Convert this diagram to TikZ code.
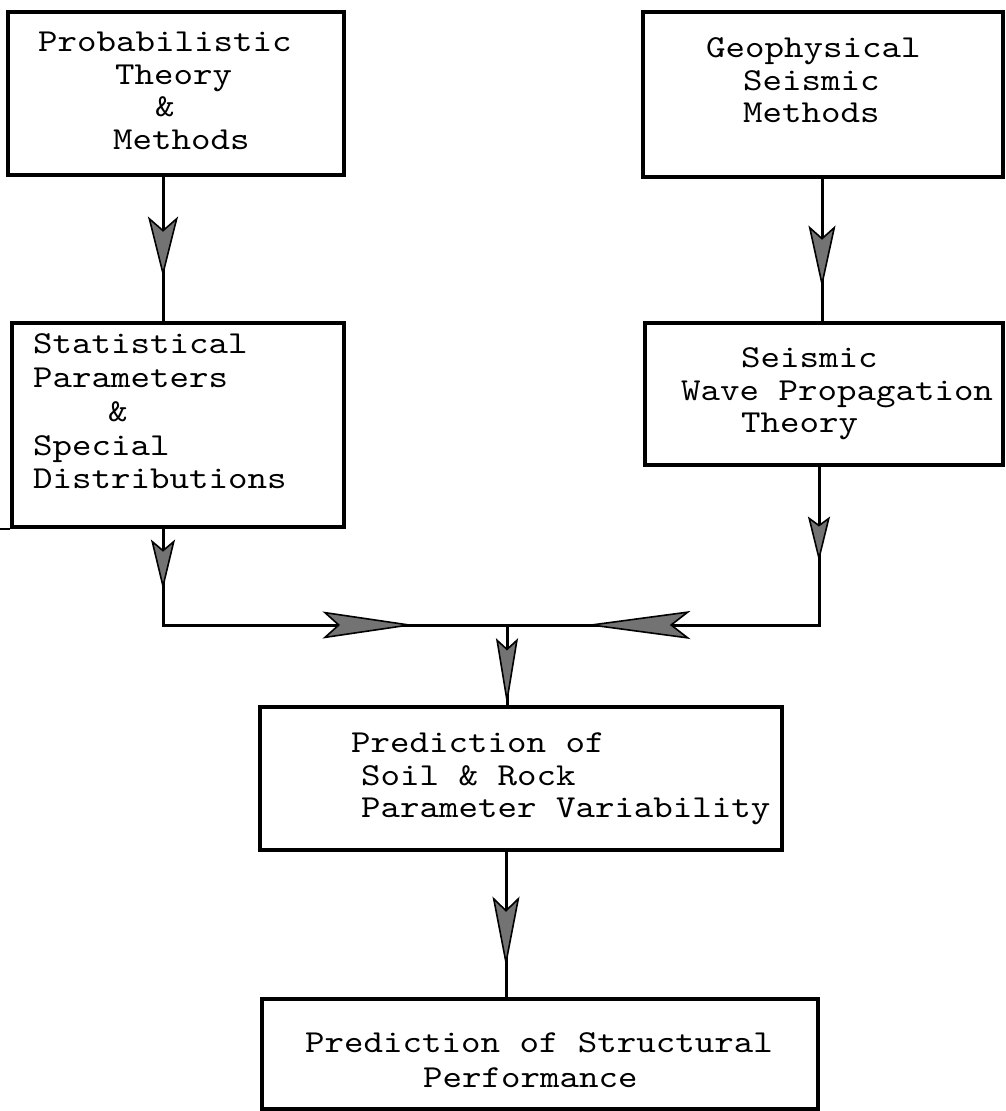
\documentclass[tikz,border=0pt]{standalone}
\usepackage{fontspec}
\newfontfamily\twfont{lmmono10-regular.otf}[FakeStretch=1.16]
\usetikzlibrary{arrows.meta,decorations.markings}
\definecolor{dartgray}{gray}{0.45}
\tikzset{
  boxnode/.style={draw=black, line width=3.2pt, rectangle, inner sep=0pt},
  ln/.style={font=\twfont\fontsize{32}{32}\selectfont, inner sep=0pt, anchor=base west},
  conn/.style={draw=black, line width=3pt, line join=miter},
  dartA/.tip={Stealth[length=60pt,width=30pt,inset=13pt,fill=dartgray,line width=1.6pt]},
  dartB/.tip={Stealth[length=62pt,width=27pt,inset=12pt,fill=dartgray,line width=1.6pt]},
  dartC/.tip={Stealth[length=50pt,width=24pt,inset=10pt,fill=dartgray,line width=1.6pt]},
  dartD/.tip={Stealth[length=45pt,width=22pt,inset=8pt,fill=dartgray,line width=1.6pt]},
  dartH/.tip={Stealth[length=92pt,width=27pt,inset=15pt,fill=dartgray,line width=1.6pt]},
  dartK/.tip={Stealth[length=105pt,width=28pt,inset=18pt,fill=dartgray,line width=1.6pt]},
  dartE/.tip={Stealth[length=67pt,width=22pt,inset=10pt,fill=dartgray,line width=1.6pt]},
  dartF/.tip={Stealth[length=70pt,width=27pt,inset=13pt,fill=dartgray,line width=1.6pt]},
}
\begin{document}
\begin{tikzpicture}[x=1pt,y=-1pt]
\useasboundingbox (0,0) rectangle (1005,1111);
% boxes
\node[boxnode, minimum width=336pt, minimum height=163pt] (b1) at (176,93.5) {};
\node[boxnode, minimum width=360pt, minimum height=165pt] (b2) at (823,94.5) {};
\node[boxnode, minimum width=332pt, minimum height=204pt] (b3) at (178,425) {};
\node[boxnode, minimum width=358pt, minimum height=142pt] (b4) at (824,394) {};
\node[boxnode, minimum width=522pt, minimum height=143pt] (b5) at (521,778.5) {};
\node[boxnode, minimum width=556pt, minimum height=110pt] (b6) at (540,1054) {};
% texts
\node[ln] (t1a) at (38,51) {Probabilistic};
\node[ln] (t1b) at (115,84) {Theory};
\node[ln] (t1c) at (155,116) {\&};
\node[ln] (t1d) at (113,149) {Methods};
\node[ln] (t2a) at (706,57) {Geophysical};
\node[ln] (t2b) at (743,90) {Seismic};
\node[ln] (t2c) at (743,122) {Methods};
\node[ln] (t3a) at (33,353) {Statistical};
\node[ln] (t3b) at (33,387) {Parameters};
\node[ln] (t3c) at (108,421) {\&};
\node[ln] (t3d) at (33,455) {Special};
\node[ln] (t3e) at (33,488) {Distributions};
\node[ln] (t4a) at (741,367) {Seismic};
\node[ln] (t4b) at (681,400) {Wave Propagation};
\node[ln] (t4c) at (741,432) {Theory};
\node[ln] (t5a) at (351,752) {Prediction of};
\node[ln] (t5b) at (361,785) {Soil \& Rock};
\node[ln] (t5c) at (361,817) {Parameter Variability};
\node[ln] (t6a) at (305,1052) {Prediction of Structural};
\node[ln] (t6b) at (423,1087) {Performance};
% junction
\coordinate (J) at (507,625);
% stray stroke left of box 3
\draw[line width=2pt] ([xshift=-12pt]b3.south west) -- (b3.south west);
% connector lines
\draw[conn] ([xshift=-13pt]b1.south) -- ([xshift=-15pt]b3.north);
\draw[conn] ([xshift=-1pt]b2.south) -- ([xshift=-2pt]b4.north);
\draw[conn] ([xshift=-15pt]b3.south) |- (J);
\draw[conn] ([xshift=-5pt]b4.south) |- (J);
\draw[conn] (J) -- (J |- b5.north);
\draw[conn] ([xshift=-15pt]b5.south) -- ([xshift=-34pt]b6.north);
% arrowheads placed along the same connectors
\path[postaction={decorate}, decoration={markings, mark=at position 100pt with {\arrow{dartA}}}]
  ([xshift=-13pt]b1.south) -- ([xshift=-15pt]b3.north);
\path[postaction={decorate}, decoration={markings, mark=at position 109pt with {\arrow{dartB}}}]
  ([xshift=-1pt]b2.south) -- ([xshift=-2pt]b4.north);
\path[postaction={decorate}, decoration={markings, mark=at position 61pt with {\arrow{dartC}}, mark=at position 348pt with {\arrow{dartH}}}]
  ([xshift=-15pt]b3.south) |- (J);
\path[postaction={decorate}, decoration={markings, mark=at position 95pt with {\arrow{dartD}}, mark=at position 392pt with {\arrow{dartK}}}]
  ([xshift=-5pt]b4.south) |- (J);
\path[postaction={decorate}, decoration={markings, mark=at position 0.999 with {\arrow{dartE}}}]
  (J) -- (J |- b5.north);
\path[postaction={decorate}, decoration={markings, mark=at position 115pt with {\arrow{dartF}}}]
  ([xshift=-15pt]b5.south) -- ([xshift=-34pt]b6.north);
\end{tikzpicture}
\end{document}
